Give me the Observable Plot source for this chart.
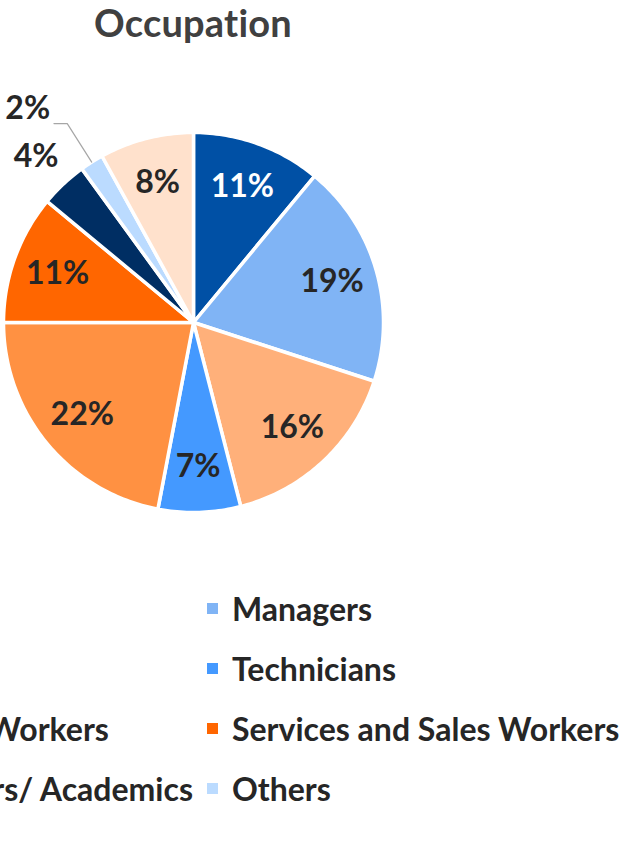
<!DOCTYPE html>
<html>
<head>
<meta charset="utf-8">
<script src="https://cdn.jsdelivr.net/npm/d3@7"></script>
<script src="https://cdn.jsdelivr.net/npm/@observablehq/plot@0.6"></script>
<style>
  html, body { margin: 0; padding: 0; background: #fff; overflow: hidden; }
  body { width: 621px; height: 865px; position: relative; font-family: Lato, "Open Sans", sans-serif;
         font-variant-ligatures: none; font-feature-settings: "liga" 0, "clig" 0, "dlig" 0, "calt" 0; }
  #title { position: absolute; left: 43px; width: 300px; top: 3px; text-align: center; letter-spacing: 0.2px;
           font-size: 38px; line-height: 38px; font-weight: 700; color: #404040; white-space: nowrap; }
  #chart { position: absolute; left: 0; top: 0; }
  .legcol { position: absolute; top: 578px; width: max-content; white-space: nowrap; }
  .legcol.left { right: calc(100% - 193px); }
  .legcol.right { left: 207px; }
  .item { height: 60px; display: flex; align-items: center; font-size: 32px; font-weight: 700; color: #262626; }
  .swatch { width: 11px; height: 11px; margin-right: 14px; flex: none; }
  svg text { font-variant-ligatures: none; }
</style>
</head>
<body>
<div id="title">Occupation</div>
<div id="chart"></div>
<div class="legcol left" id="legLeft"></div>
<div class="legcol right" id="legRight"></div>
<script>
// ---- data ----
const categories = ["Students", "Managers", "Farmers", "Technicians", "Industrial Workers",
                    "Services and Sales Workers", "Researchers/ Academics", "Others", "Retired"];
const shares = [11, 19, 16, 7, 22, 11, 4, 2, 8];
const colors = ["#0050A5", "#80B4F5", "#FFB07A", "#4499FF", "#FF9142",
                "#FF6600", "#002E63", "#BBDBFF", "#FFE1CC"];

const table = categories.map((name, i) => ({name, value: shares[i], color: colors[i]}));
const arcs = d3.pie().sort(null).value(d => d.value).startAngle(0).endAngle(2 * Math.PI)(table);

// slice polygons (unit circle, angle measured clockwise from 12 o'clock)
const polys = [];
arcs.forEach(a => {
  const n = Math.max(2, Math.ceil((a.endAngle - a.startAngle) / (Math.PI / 180)));
  polys.push({name: a.data.name, x: 0, y: 0});
  for (let k = 0; k <= n; k++) {
    const t = a.startAngle + (a.endAngle - a.startAngle) * k / n;
    polys.push({name: a.data.name, x: Math.sin(t), y: Math.cos(t)});
  }
  polys.push({name: a.data.name, x: 0, y: 0});
});

const mid = a => (a.startAngle + a.endAngle) / 2;
const inside = arcs.filter(a => a.data.value > 4).map(a => ({
  text: a.data.value + "%",
  x: 0.76 * Math.sin(mid(a)), y: 0.76 * Math.cos(mid(a)),
  fill: d3.lab(a.data.color).l < 40 ? "white" : "#262626"
}));
const outsideNear = arcs.filter(a => a.data.value <= 4 && a.data.value >= 3).map(a => ({
  text: a.data.value + "%",
  x: 1.21 * Math.sin(mid(a)), y: 1.2 * Math.cos(mid(a))
}));
const leaders = [];
const outsideFar = [];
arcs.filter(a => a.data.value < 3).forEach(a => {
  const m = mid(a);
  const ex = Math.sin(m), ey = Math.cos(m);
  const bx = 1.24 * ex, by = 1.24 * ey;
  leaders.push({name: a.data.name, x: ex, y: ey});
  leaders.push({name: a.data.name, x: bx, y: by});
  leaders.push({name: a.data.name, x: bx - 0.07, y: by});
  outsideFar.push({text: a.data.value + "%", x: bx - 0.09, y: by + 0.08});
});

const plot = Plot.plot({
  width: 621, height: 560,
  margin: 0,
  style: {fontFamily: "Lato, sans-serif", background: "transparent", overflow: "visible"},
  x: {domain: [-1, 1], range: [3, 383], axis: null},
  y: {domain: [-1, 1], range: [512, 132], axis: null},
  color: {domain: categories, range: colors},
  marks: [
    Plot.line(polys, {x: "x", y: "y", z: "name", fill: "name", stroke: "white", strokeWidth: 3.5, strokeLinejoin: "miter", strokeMiterlimit: 4}),
    Plot.line(leaders, {x: "x", y: "y", z: "name", stroke: "#A6A6A6", strokeWidth: 1.2, strokeLinejoin: "miter"}),
    Plot.text(inside, {x: "x", y: "y", text: "text", fill: "fill", fontSize: 32, fontWeight: "bold"}),
    Plot.text(outsideNear, {x: "x", y: "y", text: "text", fill: "#262626", fontSize: 32, fontWeight: "bold"}),
    Plot.text(outsideFar, {x: "x", y: "y", text: "text", fill: "#262626", fontSize: 32, fontWeight: "bold", textAnchor: "end"})
  ]
});
document.getElementById("chart").appendChild(plot);

// ---- legend (row-wise, two columns) ----
const left = document.getElementById("legLeft");
const right = document.getElementById("legRight");
table.forEach((d, i) => {
  const item = document.createElement("div");
  item.className = "item";
  const sw = document.createElement("span");
  sw.className = "swatch";
  sw.style.background = d.color;
  const tx = document.createElement("span");
  tx.textContent = d.name;
  item.appendChild(sw);
  item.appendChild(tx);
  (i % 2 === 0 ? left : right).appendChild(item);
});
</script>
</body>
</html>
